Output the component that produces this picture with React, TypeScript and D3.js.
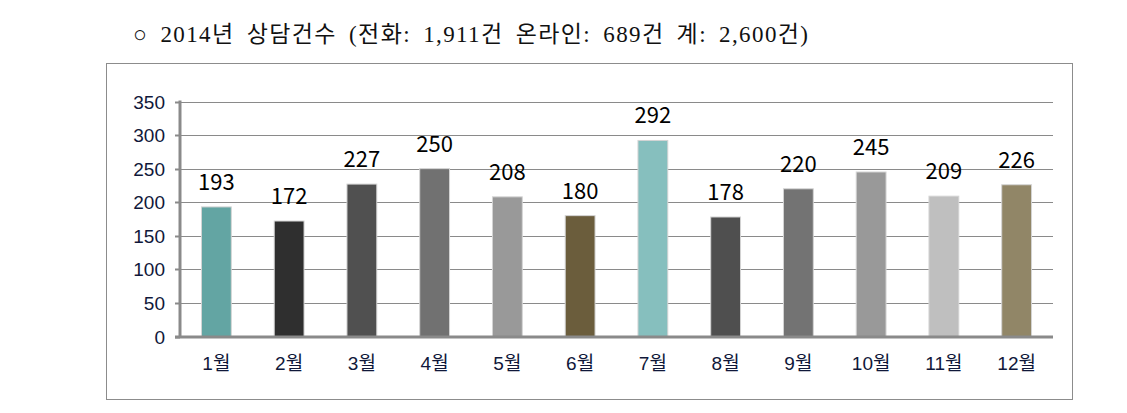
import React from "react";
import * as d3 from "d3";

const months = ["1월", "2월", "3월", "4월", "5월", "6월", "7월", "8월", "9월", "10월", "11월", "12월"];
const counts = [193, 172, 227, 250, 208, 180, 292, 178, 220, 245, 209, 226];
const barColors = ["#63a5a3", "#2f2f2f", "#505050", "#717171", "#999999", "#6b5d3c", "#86bfbe", "#4f4f4f", "#737373", "#999999", "#bfbfbf", "#918667"];
const yTicks = [0, 50, 100, 150, 200, 250, 300, 350];
const title = "○ 2014년 상담건수 (전화: 1,911건 온라인: 689건 계: 2,600건)";

export default function App() {
  const W = 1127, H = 413;
  const x0 = 180, x1 = 1053, yTop = 101.5, yBot = 336.5;
  const x = d3.scaleBand<string>().domain(months).range([x0, x1]).paddingInner(0.59).paddingOuter(0.295);
  const y = d3.scaleLinear().domain([0, 350]).range([yBot, yTop]);
  const sans = "'Liberation Sans', 'Noto Sans CJK KR', sans-serif";
  const label = "'Noto Sans CJK KR', sans-serif";
  return (
    <svg width={W} height={H} style={{ position: "absolute", left: 0, top: 0 }}>
      <rect width={W} height={H} fill="#fff" />
      <text x={133} y={42} fontFamily="'Liberation Serif', 'Noto Sans CJK KR', serif" fontSize={23} fill="#111" wordSpacing={5} textLength={675} lengthAdjust="spacing">{title}</text>
      <rect x={106.5} y={63.5} width={966} height={336} fill="none" stroke="#8c8c8c" strokeWidth={1} />
      {yTicks.filter(t => t > 0).map(t => (
        <line key={t} x1={x0} x2={x1} y1={Math.round(y(t)) + 0.5} y2={Math.round(y(t)) + 0.5} stroke="#8a8a8a" strokeWidth={1} />
      ))}
      {yTicks.map(t => (
        <g key={"t" + t}>
          <line x1={x0 - 5} x2={x0} y1={Math.round(y(t)) + 0.5} y2={Math.round(y(t)) + 0.5} stroke="#8a8a8a" strokeWidth={2} />
          <text x={165} y={y(t) + 7} textAnchor="end" fontFamily={sans} fontSize={19} fill="#10183a">{t}</text>
        </g>
      ))}
      {months.map((m, i) => (
        <g key={m}>
          <rect x={x(m)!} y={y(counts[i])} width={x.bandwidth()} height={yBot - y(counts[i])} fill={barColors[i]} stroke="#d4d4d4" strokeWidth={1} />
          <text x={x(m)! + x.bandwidth() / 2} y={y(counts[i]) - 17} textAnchor="middle" fontFamily={label} fontSize={22} fontWeight={400} fill="#000">{counts[i]}</text>
          <text x={x(m)! + x.bandwidth() / 2} y={370} textAnchor="middle" fontFamily={sans} fontSize={19} fill="#10183a">{m}</text>
        </g>
      ))}
      <line x1={x0} x2={x0} y1={yTop - 1} y2={yBot + 1.5} stroke="#8a8a8a" strokeWidth={3} />
      <line x1={x0 - 5} x2={x1} y1={yBot + 0.5} y2={yBot + 0.5} stroke="#8a8a8a" strokeWidth={3} />
    </svg>
  );
}
